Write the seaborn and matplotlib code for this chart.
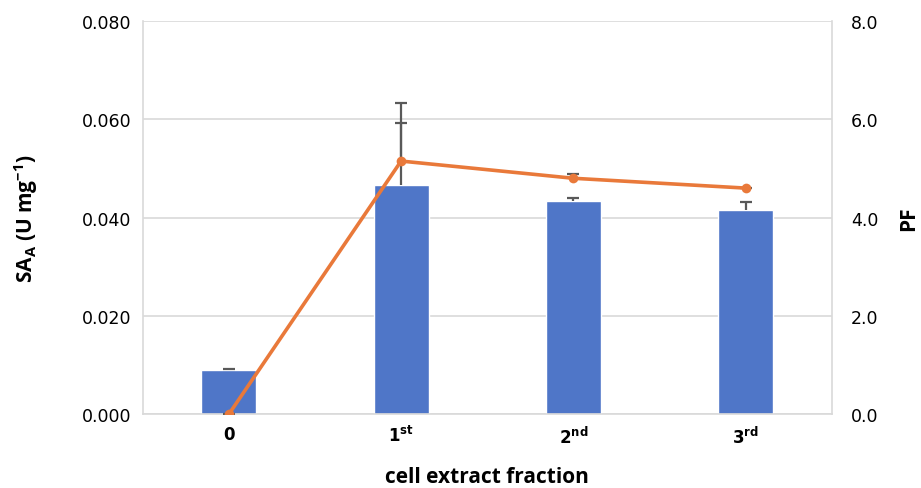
import numpy as np
import pandas as pd
import matplotlib
matplotlib.use("Agg")
import matplotlib.pyplot as plt
import seaborn as sns

# values
fractions = ["0", "1st", "2nd", "3rd"]
tick_labels = ["0", "1$^{\\mathbf{st}}$", "2$^{\\mathbf{nd}}$", "3$^{\\mathbf{rd}}$"]
sa_values = [0.0090, 0.0467, 0.0434, 0.0416]
sa_err_plus = [0.0002, 0.0125, 0.0006, 0.0016]
pf_values = [0.0, 5.15, 4.80, 4.60]
pf_err_plus = [0.0, 1.18, 0.08, 0.0]

df = pd.DataFrame({"fraction": fractions, "SA": sa_values, "PF": pf_values})

sns.set_style("white")
plt.rcParams["font.family"] = ["DejaVu Sans"]
plt.rcParams["text.color"] = "black"
plt.rcParams["axes.labelcolor"] = "black"
plt.rcParams["xtick.color"] = "black"
plt.rcParams["ytick.color"] = "black"

bar_color = "#4F76C8"
line_color = "#E9793A"
err_color = "#595959"
grid_color = "#D9D9D9"


def plus_errorbar(axis, x, y, err):
    # Excel-style "plus" error bars: only the upper cap is shown
    _, caps, _ = axis.errorbar(x, y, yerr=[np.zeros(len(y)), err], fmt="none",
                               ecolor=err_color, elinewidth=1.6, capsize=4,
                               capthick=1.6, zorder=3)
    caps[0].set_visible(False)


fig, ax = plt.subplots(figsize=(9.21, 4.89), dpi=100)
fig.subplots_adjust(left=0.155, right=0.903, top=0.955, bottom=0.151)

sns.barplot(data=df, x="fraction", y="SA", color=bar_color, width=0.32,
            saturation=1, ax=ax, zorder=2)
x_pos = np.arange(len(fractions))
plus_errorbar(ax, x_pos, sa_values, sa_err_plus)

ax.set_ylim(0, 0.08)
ax.set_yticks(np.arange(0, 0.0801, 0.02))
ax.set_yticklabels([f"{v:.3f}" for v in np.arange(0, 0.0801, 0.02)])
ax.set_xlim(-0.5, 3.5)
ax.set_xticks(x_pos)
ax.set_xticklabels(tick_labels, fontweight="bold")
ax.yaxis.grid(True, color=grid_color, linewidth=1.2, zorder=0)
ax.set_axisbelow(True)
for side in ["left", "right", "bottom"]:
    ax.spines[side].set_color(grid_color)
    ax.spines[side].set_linewidth(1.2)
ax.spines["top"].set_visible(False)
ax.tick_params(axis="y", length=0, labelsize=12.5, pad=8)
ax.tick_params(axis="x", length=0, pad=8, labelsize=12)

ax.set_xlabel("cell extract fraction", fontsize=15, fontweight="bold",
              family=["Open Sans", "DejaVu Sans"], labelpad=14)
ax.set_ylabel("SA$_\\mathregular{A}$ (U mg$^{\\mathregular{-1}}$)", fontsize=15, fontweight="bold",
              family=["Open Sans", "DejaVu Sans"], labelpad=30)

ax2 = ax.twinx()
sns.lineplot(x=x_pos, y=pf_values, color=line_color, linewidth=2.6, marker="o",
             markersize=7, markeredgewidth=0, ax=ax2, zorder=4)
plus_errorbar(ax2, x_pos, pf_values, pf_err_plus)
ax2.set_ylim(0, 8)
ax2.set_yticks(np.arange(0, 8.01, 2))
ax2.set_yticklabels([f"{v:.1f}" for v in np.arange(0, 8.01, 2)])
ax2.tick_params(axis="y", length=0, labelsize=12.5, pad=14)
ax2.set_ylabel("PF", fontsize=15, fontweight="bold", family=["Open Sans", "DejaVu Sans"],
               labelpad=14)
for sp in ax2.spines.values():
    sp.set_visible(False)

fig.savefig("out.png", dpi=100)
